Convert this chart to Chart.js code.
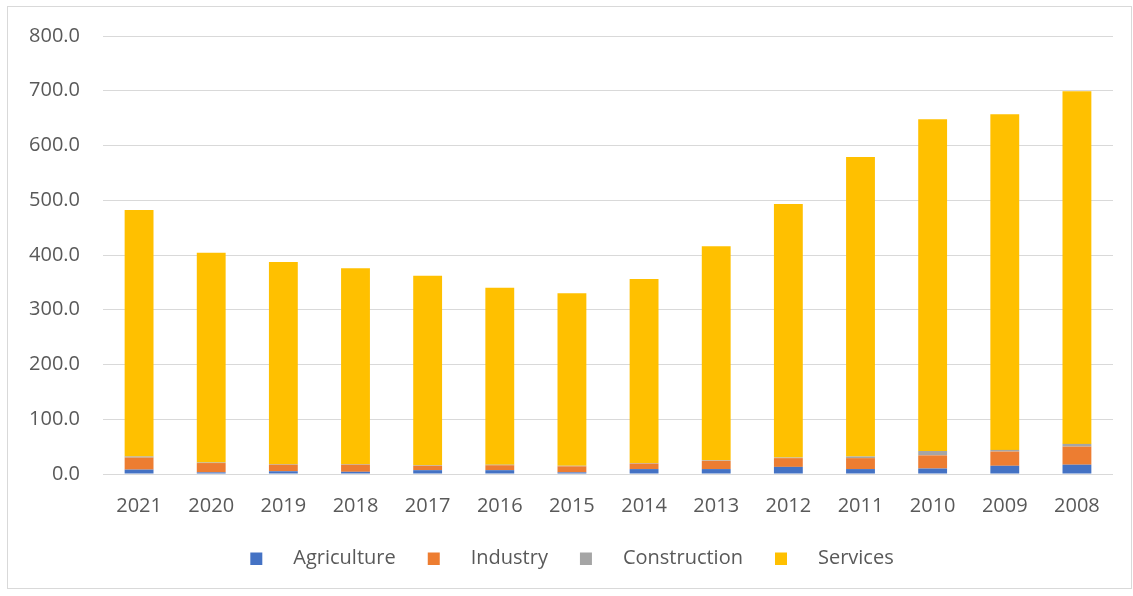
<!DOCTYPE html>
<html>
<head>
<meta charset="utf-8">
<script src="https://cdn.jsdelivr.net/npm/chart.js@4/dist/chart.umd.min.js"></script>
<style>
  html, body { margin: 0; padding: 0; background: #ffffff; }
  canvas { display: block; }
</style>
</head>
<body>
<canvas id="chart" width="1133" height="596"></canvas>
<script>
// Years, most recent first
const years = ['2021', '2020', '2019', '2018', '2017', '2016', '2015', '2014', '2013', '2012', '2011', '2010', '2009', '2008'];

// Values per sector
const agriculture  = [8, 3, 5, 4, 7, 7, 3, 9, 9, 13, 9, 10, 15, 17];
const industry     = [22, 17, 12, 13, 8, 9, 11, 10, 15, 16, 20, 24, 26, 33];
const construction = [2, 1, 1, 1, 1, 1, 1, 1, 1, 1, 3, 8, 3, 5];
const services     = [450, 383, 369, 358, 346, 323, 315, 336, 391, 463, 547, 606, 613, 644];

// Value axis
const yTicks = [0, 100, 200, 300, 400, 500, 600, 700, 800];

const sectorNames = ['Agriculture', 'Industry', 'Construction', 'Services'];
const sectorColors = ['#4472C4', '#ED7D31', '#A5A5A5', '#FFC000'];
const sectorValues = [agriculture, industry, construction, services];

const FONT = "'Open Sans', 'Liberation Sans', sans-serif";
const TEXT = '#595959';

// Legend swatch: small square with blank lead-in space, drawn as an image
function swatch(color) {
  const c = document.createElement('canvas');
  c.width = 55;
  c.height = 13;
  const g = c.getContext('2d');
  g.fillStyle = color;
  g.fillRect(22, 1, 12, 12);
  return c;
}

const frame = {
  id: 'frame',
  beforeDraw(chart) {
    const ctx = chart.ctx;
    ctx.save();
    ctx.fillStyle = '#ffffff';
    ctx.fillRect(0, 0, chart.width, chart.height);
    ctx.strokeStyle = '#d9d9d9';
    ctx.lineWidth = 1;
    ctx.strokeRect(7.5, 6.5, 1124, 582);
    ctx.restore();
  }
};

new Chart(document.getElementById('chart'), {
  type: 'bar',
  data: {
    labels: years,
    datasets: sectorNames.map((name, i) => ({
      label: name,
      data: sectorValues[i],
      backgroundColor: sectorColors[i],
      borderWidth: 0,
      barPercentage: 0.4,
      categoryPercentage: 1.0
    }))
  },
  options: {
    responsive: false,
    animation: false,
    layout: { padding: { left: 9, right: 20, top: 36, bottom: 18 } },
    scales: {
      x: {
        stacked: true,
        grid: { display: false, drawTicks: false },
        border: { display: false },
        ticks: { color: TEXT, font: { family: FONT, size: 20 }, padding: 20, maxRotation: 0 },
        afterFit(scale) { scale.height = 64; }
      },
      y: {
        stacked: true,
        min: 0,
        max: yTicks[yTicks.length - 1],
        afterBuildTicks(scale) { scale.ticks = yTicks.map(v => ({ value: v })); },
        grid: { color: '#d9d9d9', lineWidth: 1, drawTicks: false },
        border: { display: false },
        ticks: {
          color: TEXT,
          font: { family: FONT, size: 20 },
          padding: 23,
          callback: v => Number(v).toFixed(1)
        },
        afterFit(scale) { scale.width = 94; }
      }
    },
    plugins: {
      legend: {
        position: 'bottom',
        labels: {
          color: TEXT,
          font: { family: FONT, size: 20 },
          usePointStyle: true,
          pointStyleWidth: 55,
          padding: 10,
          generateLabels(chart) {
            const items = Chart.defaults.plugins.legend.labels.generateLabels(chart);
            items.forEach((it, i) => { it.pointStyle = swatch(sectorColors[i]); });
            return items;
          }
        }
      },
      tooltip: { enabled: false }
    }
  },
  plugins: [frame]
});
</script>
</body>
</html>
